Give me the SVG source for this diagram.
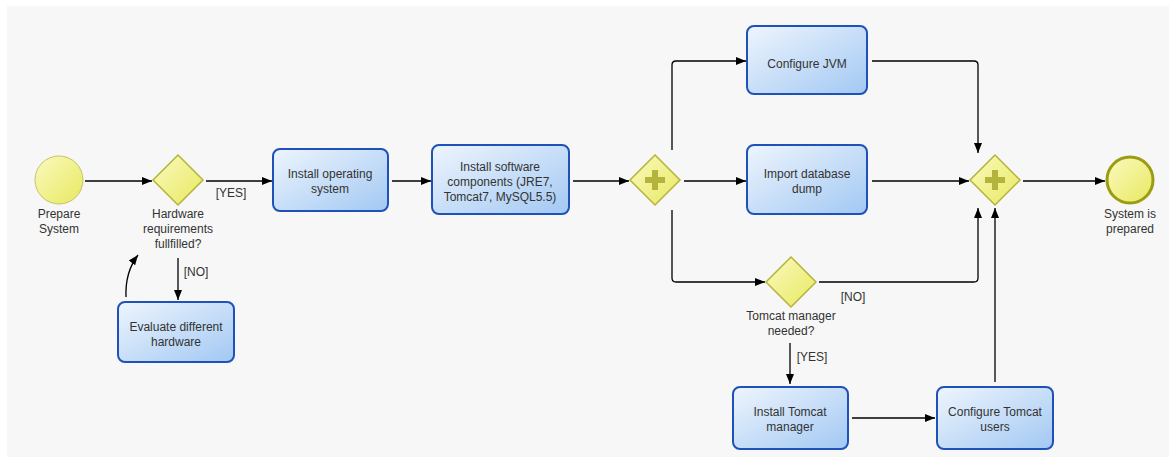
<svg xmlns="http://www.w3.org/2000/svg" width="1169" height="457" viewBox="0 0 1169 457">
<defs>
<linearGradient id="gTask" x1="0" y1="0" x2="1" y2="1">
<stop offset="0" stop-color="#eef5fd"/>
<stop offset="1" stop-color="#a2c8f3"/>
</linearGradient>
<linearGradient id="gYel" x1="0" y1="0" x2="1" y2="1">
<stop offset="0" stop-color="#fafac0"/>
<stop offset="1" stop-color="#e8e860"/>
</linearGradient>
<marker id="arr" viewBox="0 0 10 10" refX="10" refY="5" markerWidth="10" markerHeight="10" markerUnits="userSpaceOnUse" orient="auto">
<path d="M0,1 L10,5 L0,9 z" fill="#000"/>
</marker>
<g id="plus"><path d="M-3,-10 H3 V-3 H10 V3 H3 V10 H-3 V3 H-10 V-3 H-3 z" fill="#b4b43c"/></g>
</defs>
<style>
.task{fill:url(#gTask);stroke:#1f52b8;stroke-width:2}
.gw{fill:url(#gYel);stroke:#b4b43a;stroke-width:1.5}
.ev{fill:url(#gYel);stroke:#c4c46a;stroke-width:1}
.evEnd{fill:url(#gYel);stroke:#9c9c12;stroke-width:3}
.t{font-family:"Liberation Sans",Arial,sans-serif;font-size:12px;fill:#333;text-anchor:middle}
.c{fill:none;stroke:#000;stroke-width:1.3;marker-end:url(#arr)}
.cn{fill:none;stroke:#000;stroke-width:1.3}
</style>
<rect x="7" y="6" width="1162" height="451" fill="#f7f7f7"/>

<g id="connectors">
<path class="c" d="M85,181 H152"/>
<path class="c" d="M206,181 H272"/>
<path class="c" d="M392,181 H431"/>
<path class="c" d="M573,181 H629"/>
<path class="c" d="M684,181 H746"/>
<path class="c" d="M672,150 V65 Q672,61 676,61 H746"/>
<path class="c" d="M872,61 H974 Q978,61 978,65 V153"/>
<path class="c" d="M872,181 H969"/>
<path class="c" d="M1023,181 H1105"/>
<path class="c" d="M672,210 V278 Q672,282 676,282 H765"/>
<path class="c" d="M819,282 H974 Q978,282 978,278 V208"/>
<path class="c" d="M790,343 V384"/>
<path class="c" d="M852,418 H935"/>
<path class="c" d="M995,382 V208"/>
<path class="c" d="M178,258 V300"/>
<path class="c" d="M126,297 Q125,272 138,255"/>
</g>

<g id="start">
<circle class="ev" cx="59" cy="180" r="24"/>
<text class="t" x="59" y="218">Prepare</text>
<text class="t" x="59" y="233">System</text>
</g>
<g id="gw-hw">
<path class="gw" d="M178,155 L203,180 L178,205 L153,180 z"/>
<text class="t" x="178" y="218">Hardware</text>
<text class="t" x="178" y="233">requirements</text>
<text class="t" x="178" y="248">fullfilled?</text>
<text class="t" x="231" y="197">[YES]</text>
<text class="t" x="196" y="276">[NO]</text>
</g>
<g id="evaluate">
<rect class="task" x="118" y="302" width="116" height="60" rx="7"/>
<text class="t" x="176" y="331">Evaluate different</text>
<text class="t" x="176" y="346">hardware</text>
</g>
<g id="install-os">
<rect class="task" x="273" y="149" width="115" height="62" rx="7"/>
<text class="t" x="330" y="178">Install operating</text>
<text class="t" x="330" y="193">system</text>
</g>
<g id="install-sw">
<rect class="task" x="432" y="145" width="137" height="69" rx="7"/>
<text class="t" x="500" y="171">Install software</text>
<text class="t" x="500" y="186">components (JRE7,</text>
<text class="t" x="500" y="201">Tomcat7, MySQL5.5)</text>
</g>
<g id="fork">
<path class="gw" d="M655,155 L680,180 L655,205 L630,180 z"/>
<use href="#plus" x="655" y="180"/>
</g>
<g id="config-jvm">
<rect class="task" x="747" y="26" width="120" height="68" rx="7"/>
<text class="t" x="807" y="68">Configure JVM</text>
</g>
<g id="import-db">
<rect class="task" x="747" y="145" width="120" height="69" rx="7"/>
<text class="t" x="807" y="178">Import database</text>
<text class="t" x="807" y="193">dump</text>
</g>
<g id="gw-tomcat">
<path class="gw" d="M791,257 L816,282 L791,307 L766,282 z"/>
<text class="t" x="791" y="320">Tomcat manager</text>
<text class="t" x="791" y="335">needed?</text>
<text class="t" x="853" y="301">[NO]</text>
<text class="t" x="812" y="361">[YES]</text>
</g>
<g id="install-tomcat">
<rect class="task" x="733" y="387" width="115" height="62" rx="7"/>
<text class="t" x="790" y="416">Install Tomcat</text>
<text class="t" x="790" y="431">manager</text>
</g>
<g id="config-tomcat">
<rect class="task" x="937" y="387" width="116" height="62" rx="7"/>
<text class="t" x="995" y="416">Configure Tomcat</text>
<text class="t" x="995" y="431">users</text>
</g>
<g id="join">
<path class="gw" d="M995,155 L1020,180 L995,205 L970,180 z"/>
<use href="#plus" x="995" y="180"/>
</g>
<g id="end">
<circle class="evEnd" cx="1130" cy="180" r="23"/>
<text class="t" x="1130" y="218">System is</text>
<text class="t" x="1130" y="233">prepared</text>
</g>
</svg>
